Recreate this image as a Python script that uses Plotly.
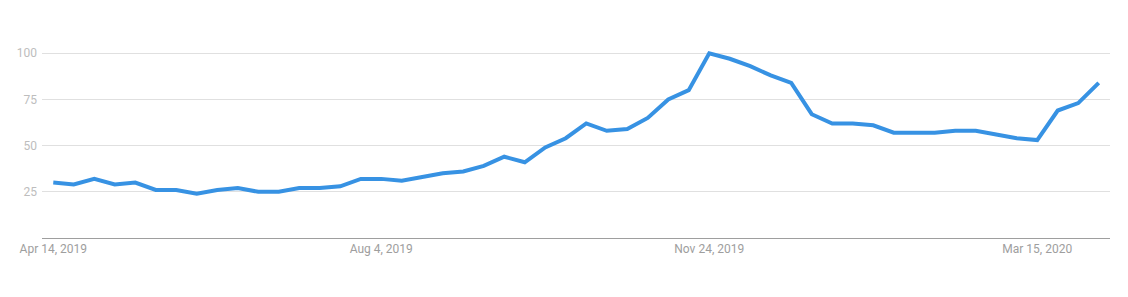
import pandas as pd
import plotly.graph_objects as go

start_date = "2019-04-14"
n_weeks = 52
values = [30, 29, 32, 29, 30, 26, 26, 24, 26, 27, 25, 25, 27, 27, 28, 32,
          32, 31, 33, 35, 36, 39, 44, 41, 49, 54, 62, 58, 59, 65, 75, 80,
          100, 97, 93, 88, 84, 67, 62, 62, 61, 57, 57, 57, 58, 58, 56, 54,
          53, 69, 73, 84]
y_ticks = [25, 50, 75, 100]
x_tick_dates = ["2019-04-14", "2019-08-04", "2019-11-24", "2020-03-15"]
x_tick_labels = ["Apr 14, 2019", "Aug 4, 2019", "Nov 24, 2019", "Mar 15, 2020"]

dates = pd.date_range(start_date, periods=n_weeks, freq="7D")

fig = go.Figure()
fig.add_trace(go.Scatter(
    x=dates, y=values, mode="lines",
    line=dict(color="#3792e3", width=4, shape="linear"),
    hoverinfo="skip",
))

half_week = pd.Timedelta(days=3.85)
fig.update_layout(
    width=1128, height=297,
    margin=dict(l=42, r=18, t=44, b=59, pad=0),
    paper_bgcolor="white", plot_bgcolor="white",
    showlegend=False,
    font=dict(family="Roboto, Arial, sans-serif"),
    xaxis=dict(
        range=[dates[0] - half_week, dates[-1] + half_week],
        tickvals=pd.to_datetime(x_tick_dates), ticktext=x_tick_labels,
        showgrid=False, zeroline=False,
        showline=True, linecolor="#9e9e9e", linewidth=1,
        ticks="", tickfont=dict(size=12, color="#9e9e9e"),
        ticklabelstandoff=0,
    ),
    yaxis=dict(
        range=[0, 105], tickvals=y_ticks,
        showgrid=True, gridcolor="#e0e0e0", gridwidth=1,
        zeroline=False, showline=False, ticks="",
        tickfont=dict(size=12, color="#bdbdbd"),
        ticklabelstandoff=4,
    ),
)

fig.write_html("out.html")
